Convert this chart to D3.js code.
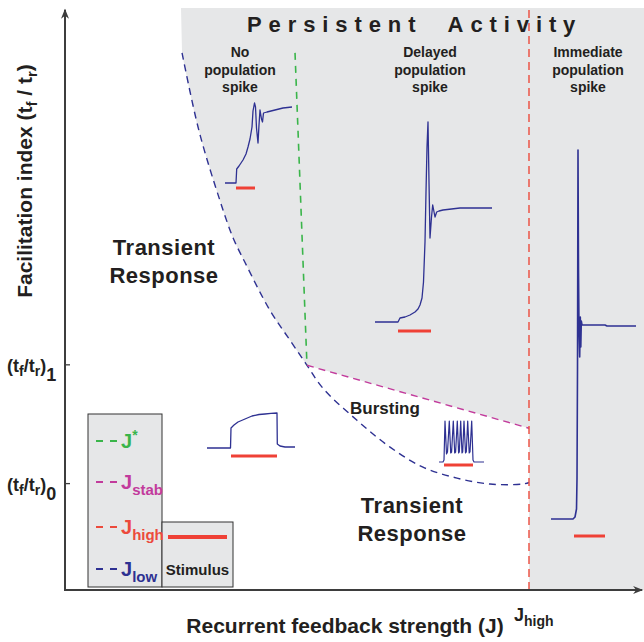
<!DOCTYPE html>
<html><head><meta charset="utf-8">
<script src="https://cdn.jsdelivr.net/npm/d3@7"></script>
<style>
body{margin:0;background:#fff}
text{font-family:"Liberation Sans",Arial,sans-serif;font-weight:bold;fill:#231f20}
</style>
</head><body><svg id="c" width="644" height="642"></svg>
<script>
// ---------------- data ----------------
const jLowCurve = [[1.009,3.622],[1.155,2.966],[1.336,2.378],[1.448,2.067],[1.552,1.857],[1.767,1.454],[1.940,1.202],[2.086,0.992],[2.224,0.798],[2.517,0.529],[2.802,0.303],[3.086,0.134],[3.379,0.042],[3.664,-0.008],[3.948,-0.008],[4.0,0.005]];
const jStarLine = [[1.983,3.622],[2.086,0.992]];
const jStabLine = [[2.086,0.992],[4.0,0.462]];
const jHigh = 4.0;
const yTickValues = [1, 0];
const yTickSubs = ["1", "0"];
const xTickValues = [jHigh];
const regionTitle = "Persistent Activity";
const subRegions = [["No","population","spike"],["Delayed","population","spike"],["Immediate","population","spike"]];
const transientLabel = ["Transient","Response"];
const burstingLabel = "Bursting";
const legendNames = ["*", "stab", "high", "low"];
const legendColors = ["#3ab54a", "#c23b9c", "#ec4a3c", "#2e3192"];
const stimulusLabel = "Stimulus";
// traces (time units, activity units)
const traceNoSpike = [[0,0],[11,0],[11.7,14],[14,17],[18,23],[21,29],[23,36],[25,44],[27,56],[28,72],[29.5,80],[30.5,76],[31.5,55],[33,40],[34,58],[35,73],[36.5,64],[37.5,61],[38.5,70],[42,71],[50,73],[58,75],[67,76]];
const traceDelayed = [[0,0],[23,0],[25,4],[30,5],[35,7],[40,10],[43,13],[45,17],[47,24],[48.5,40],[50,80],[51,130],[52,175],[53,200],[54,140],[55,84],[56.5,105],[57.7,117],[60,105],[61.7,110],[64,111],[68,112],[85,114],[100,114],[117,114]];
const traceImmediate = [[0,0],[22,0],[24,2],[25.5,10],[26,40],[26.5,150],[27,369],[27.5,250],[28,190],[28.7,162],[29.3,202],[29.8,172],[30.3,198],[31,194],[54,194],[56,193],[85,193]];
const traceTransient = [[0,0],[23.5,0],[24,20],[27,23],[31,26],[38,29],[45,32],[52,33.5],[58,34],[64,34.6],[70,35],[70.3,4],[73,2],[78,1],[88,1]];
const traceBursting = [[0,0],[4,0],[5,2],[6,41],[7.5,8],[8.5,10],[10.3,41],[11.7,9],[12.6,10],[14.3,41],[15.7,9],[16.6,10],[18.3,41],[19.6,9],[20.3,10],[21.7,41],[23,9],[23.7,10],[25,41],[26.5,9],[27.3,10],[28.7,41],[30.2,9],[31,10],[32.7,41],[34,2],[35,0],[45,0]];
const stimNoSpike = [11,30], stimDelayed=[23,56], stimImmediate=[23,54], stimTransient=[24,70], stimBursting=[5,34];

// ---------------- drawing ----------------
const svg = d3.select("#c");
const GRAY="#e6e7e8", NAVY="#2e3192", RED="#ef4136", AX="#3d3d3d";
const x = d3.scaleLinear().domain([0,5]).range([65,645]);
const y = d3.scaleLinear().domain([-0.9,4]).range([590,8]);
const lin = d3.line().x(d=>x(d[0])).y(d=>y(d[1]));
const crv = d3.line().x(d=>x(d[0])).y(d=>y(d[1])).curve(d3.curveCatmullRom);

// gray persistent region
const stabIdx = jLowCurve.findIndex(d=>d[0]===jStabLine[0][0]);
const upper = jLowCurve.slice(0, stabIdx+1).reverse();
const poly = lin([[1.0,4],[5,4],[5,-0.9],[jHigh,-0.9],[jHigh,jStabLine[1][1]],jStabLine[0]]);
const curvePart = crv(upper).replace(/^M/,"L");
svg.append("path").attr("d", poly + curvePart + "L" + x(1.0) + "," + y(4) + "Z").attr("fill",GRAY);

// boundaries
svg.append("path").attr("d", crv(jLowCurve)).attr("fill","none").attr("stroke",legendColors[3]).attr("stroke-width",1.4).attr("stroke-dasharray","7,5");
svg.append("path").attr("d", lin(jStarLine)).attr("fill","none").attr("stroke",legendColors[0]).attr("stroke-width",1.6).attr("stroke-dasharray","7,6");
svg.append("path").attr("d", lin(jStabLine)).attr("fill","none").attr("stroke",legendColors[1]).attr("stroke-width",1.4).attr("stroke-dasharray","7,5");
svg.append("path").attr("d", lin([[jHigh,-0.9],[jHigh,3.99]])).attr("fill","none").attr("stroke",legendColors[2]).attr("stroke-width",1.4).attr("stroke-dasharray","8,5");

// axes
const yAxis = d3.axisLeft(y).tickValues(yTickValues).tickSize(-5).tickFormat("");
const gy = svg.append("g").attr("transform",`translate(${x(0)},0)`).call(yAxis);
gy.select(".domain").remove();
gy.selectAll(".tick line").attr("stroke",AX).attr("stroke-width",1.3);
const xAxis = d3.axisBottom(x).tickValues(xTickValues).tickSize(0).tickFormat("");
const gx = svg.append("g").attr("transform",`translate(0,${y(-0.9)})`).call(xAxis);
gx.select(".domain").remove();
svg.append("line").attr("x1",x(0)).attr("y1",y(-0.9)+1).attr("x2",x(0)).attr("y2",y(3.985)).attr("stroke",AX).attr("stroke-width",2);
svg.append("line").attr("x1",x(0)-1).attr("y1",y(-0.9)).attr("x2",x(4.975)).attr("y2",y(-0.9)).attr("stroke",AX).attr("stroke-width",2);
// arrowheads
const ax0=x(0), ay0=y(3.985)-1;
svg.append("path").attr("d",`M${ax0},${ay0} L${ax0-4},${ay0+10} L${ax0},${ay0+7} L${ax0+4},${ay0+10}Z`).attr("fill",AX);
const bx0=x(4.975)+1, by0=y(-0.9);
svg.append("path").attr("d",`M${bx0},${by0} L${bx0-10},${by0-4} L${bx0-7},${by0} L${bx0-10},${by0+4}Z`).attr("fill",AX);

// y tick labels
yTickValues.forEach((v,i)=>{
  const t = svg.append("text").attr("x",7).attr("y",y(v)+8).style("font-size","18px");
  t.append("tspan").text("(t");
  t.append("tspan").text("f").attr("dy",4).style("font-size","14px");
  t.append("tspan").text("/t").attr("dy",-4);
  t.append("tspan").text("r").attr("dy",4).style("font-size","14px");
  t.append("tspan").text(")").attr("dy",-4);
  t.append("tspan").text(yTickSubs[i]).attr("dy",9).style("font-size","18px");
});
// x tick label J_high
const jt = svg.append("text").attr("x",x(jHigh)-15).attr("y",621).style("font-size","18px");
jt.append("tspan").text("J");
jt.append("tspan").text("high").attr("dy",5).style("font-size","14px");

// axis titles
svg.append("text").attr("x",345).attr("y",633).attr("text-anchor","middle").style("font-size","21px").text("Recurrent feedback strength (J)");
const yl = svg.append("text").attr("transform","translate(32,181) rotate(-90)").attr("text-anchor","middle").style("font-size","21px");
yl.append("tspan").text("Facilitation index (t");
yl.append("tspan").text("f").attr("dy",5).style("font-size","15px");
yl.append("tspan").text(" / t").attr("dy",-5);
yl.append("tspan").text("r").attr("dy",5).style("font-size","15px");
yl.append("tspan").text(")").attr("dy",-5);

// region title
svg.append("text").attr("x",247).attr("y",32).style("font-size","22px").style("letter-spacing","6.9px").text(regionTitle.replace(" ","  ")).attr("xml:space","preserve");
const subX = [240, 430, 588];
subRegions.forEach((lines,i)=>{
  lines.forEach((s,j)=>{
    svg.append("text").attr("x",subX[i]).attr("y",57+j*17.5).attr("text-anchor","middle").style("font-size","14px").text(s);
  });
});
// transient labels
[[164,255],[412,513]].forEach(p=>{
  transientLabel.forEach((s,j)=>{
    svg.append("text").attr("x",p[0]).attr("y",p[1]+j*28).attr("text-anchor","middle").style("font-size","22px").style("letter-spacing","0.5px").text(s);
  });
});
svg.append("text").attr("x",350).attr("y",414).style("font-size","17px").text(burstingLabel);

// legend
svg.append("rect").attr("x",88).attr("y",414).attr("width",74).attr("height",173).attr("fill",GRAY).attr("stroke","#333").attr("stroke-width",1);
svg.append("rect").attr("x",162).attr("y",522).attr("width",71).attr("height",65).attr("fill",GRAY).attr("stroke","#333").attr("stroke-width",1);
const legY = [441, 482, 527, 569];
legendNames.forEach((nm,i)=>{
  const c = legendColors[i];
  svg.append("line").attr("x1",96).attr("x2",117).attr("y1",legY[i]).attr("y2",legY[i]).attr("stroke",c).attr("stroke-width",2).attr("stroke-dasharray","7,7");
  const t = svg.append("text").attr("x",121).attr("y",legY[i]+7).style("font-size","20px");
  t.append("tspan").text("J").style("fill",c);
  if(i===0){
    t.append("tspan").text(nm).attr("dy",-8).style("font-size","14px").style("fill",c);
  } else {
    t.append("tspan").text(nm).attr("dy",6).style("font-size","15px").style("fill",c);
  }
});
svg.append("line").attr("x1",168).attr("x2",227).attr("y1",537).attr("y2",537).attr("stroke",RED).attr("stroke-width",4);
svg.append("text").attr("x",197.5).attr("y",575).attr("text-anchor","middle").style("font-size","15px").text(stimulusLabel);

// insets
function inset(trace, stim, x0, base, stimV, sw){
  const tx = d3.scaleLinear().domain([0,100]).range([x0, x0+100]);
  const ty = d3.scaleLinear().domain([0,100]).range([base, base-100]);
  svg.append("path").attr("d", d3.line().x(d=>tx(d[0])).y(d=>ty(d[1]))(trace)).attr("fill","none").attr("stroke",NAVY).attr("stroke-width",sw||1.3).attr("stroke-linejoin","round");
  svg.append("line").attr("x1",tx(stim[0])).attr("x2",tx(stim[1])).attr("y1",ty(stimV)).attr("y2",ty(stimV)).attr("stroke",RED).attr("stroke-width",3);
}
inset(traceNoSpike, stimNoSpike, 225, 183, -5);
inset(traceDelayed, stimDelayed, 375, 322, -9);
inset(traceImmediate, stimImmediate, 551, 519, -17, 1.6);
inset(traceTransient, stimTransient, 207, 448, -8);
inset(traceBursting, stimBursting, 439, 462, -3, 1.2);
</script>
</body></html>
